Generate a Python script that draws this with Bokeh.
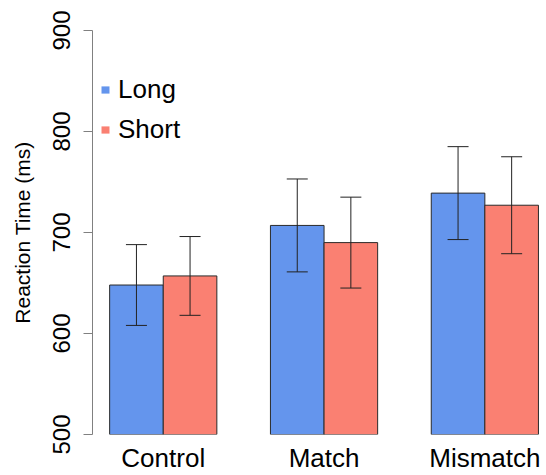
from bokeh.plotting import figure
from bokeh.models import Range1d, FixedTicker, Whisker, TeeHead, ColumnDataSource, Legend, LegendItem
from bokeh.embed import file_html
from bokeh.resources import INLINE

categories = ["Control", "Match", "Mismatch"]
long_means = [648, 707, 739]
short_means = [657, 690, 727]
long_err = [40, 46, 46]
short_err = [39, 45, 48]
y_ticks = [500, 600, 700, 800, 900]

BLUE = "#6495ED"
SALMON = "#FA8072"
FONT = "Liberation Sans"

# R barplot layout: groups of 2 bars (width 1) separated by 1 unit of space
long_x = [1.5 + 3 * i for i in range(len(categories))]
short_x = [2.5 + 3 * i for i in range(len(categories))]
group_x = [2 + 3 * i for i in range(len(categories))]

unit_px = 53.6
frame_w = 454
x0 = 0.68

p = figure(width=546, height=475, output_backend="svg", toolbar_location=None,
           x_range=Range1d(x0, x0 + frame_w / unit_px), y_range=Range1d(500, 900),
           min_border_left=92, min_border_right=0, min_border_top=30, min_border_bottom=40)
p.outline_line_color = None
p.grid.visible = False
p.background_fill_color = "white"

src_long = ColumnDataSource(dict(x=long_x, top=long_means,
                                 upper=[m + e for m, e in zip(long_means, long_err)],
                                 lower=[m - e for m, e in zip(long_means, long_err)]))
src_short = ColumnDataSource(dict(x=short_x, top=short_means,
                                  upper=[m + e for m, e in zip(short_means, short_err)],
                                  lower=[m - e for m, e in zip(short_means, short_err)]))

p.vbar(x="x", top="top", bottom=500, width=1, source=src_long,
       fill_color=BLUE, line_color="#2a2a2a", line_width=1)
p.vbar(x="x", top="top", bottom=500, width=1, source=src_short,
       fill_color=SALMON, line_color="#2a2a2a", line_width=1)

for src in (src_long, src_short):
    w = Whisker(base="x", upper="upper", lower="lower", source=src, level="overlay",
                line_color="#222222", line_width=1,
                upper_head=TeeHead(size=21, line_color="#222222", line_width=1),
                lower_head=TeeHead(size=21, line_color="#222222", line_width=1))
    p.add_layout(w)

# legend-only glyphs (placed outside the visible range)
lg_long = p.vbar(x=[-10], top=[600], bottom=500, width=1, fill_color=BLUE, line_color=None)
lg_short = p.vbar(x=[-10], top=[600], bottom=500, width=1, fill_color=SALMON, line_color=None)
legend = Legend(items=[LegendItem(label="Long", renderers=[lg_long]),
                       LegendItem(label="Short", renderers=[lg_short])],
                location=(8, 289), orientation="vertical")
legend.border_line_color = None
legend.background_fill_alpha = 0
legend.label_text_font = FONT
legend.label_text_font_size = "26px"
legend.label_text_color = "black"
legend.glyph_width = 10
legend.glyph_height = 9
legend.spacing = 9
legend.padding = 0
legend.margin = 0
legend.label_standoff = 8
p.add_layout(legend)

# y axis
ya = p.yaxis[0]
ya.ticker = FixedTicker(ticks=y_ticks)
ya.axis_line_color = "#808080"
ya.major_tick_line_color = "#808080"
ya.major_tick_out = 9
ya.major_tick_in = 0
ya.minor_tick_line_color = None
ya.minor_tick_out = 0
ya.minor_tick_in = 0
ya.major_label_orientation = "vertical"
ya.major_label_text_font = FONT
ya.major_label_text_font_size = "24px"
ya.major_label_text_color = "black"
ya.major_label_standoff = 14
ya.axis_label = "Reaction Time (ms)"
ya.axis_label_text_font = FONT
ya.axis_label_text_font_size = "21px"
ya.axis_label_text_font_style = "normal"
ya.axis_label_text_color = "black"
ya.axis_label_standoff = 16

# x axis
xa = p.xaxis[0]
xa.ticker = FixedTicker(ticks=group_x)
xa.major_label_overrides = {gx: c for gx, c in zip(group_x, categories)}
xa.axis_line_color = None
xa.major_tick_line_color = None
xa.minor_tick_line_color = None
xa.major_tick_out = 0
xa.major_tick_in = 0
xa.minor_tick_out = 0
xa.minor_tick_in = 0
xa.major_label_text_font = FONT
xa.major_label_text_font_size = "26px"
xa.major_label_text_color = "black"
xa.major_label_standoff = 8

open("out.html", "w").write(file_html(p, INLINE))
